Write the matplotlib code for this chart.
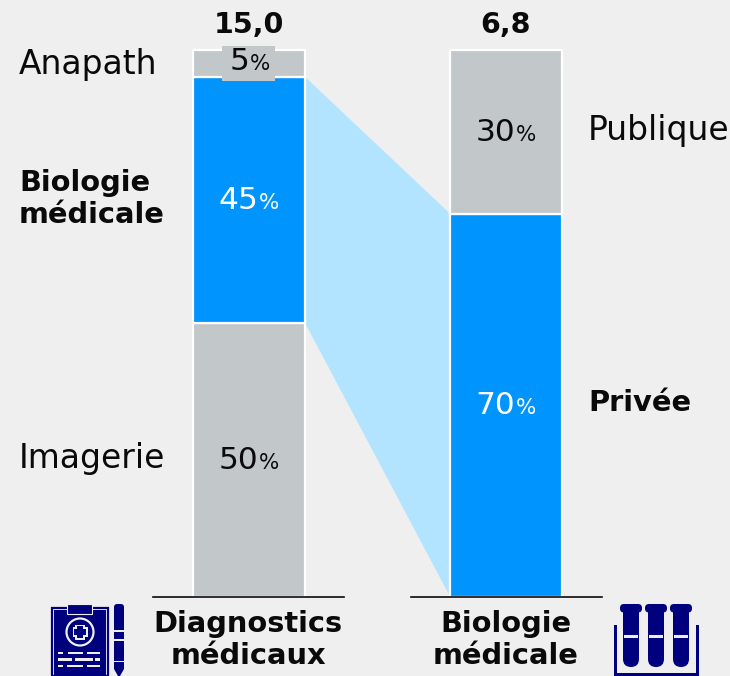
import matplotlib
matplotlib.use("Agg")
import matplotlib.pyplot as plt
from matplotlib.patches import Rectangle, FancyBboxPatch, Circle, Polygon

plt.rcParams['font.family'] = ['DejaVu Sans']

# data
totals = ["15,0", "6,8"]
group_names = ["Diagnostics\nmédicaux", "Biologie\nmédicale"]
left_labels = ["Imagerie", "Biologie\nmédicale", "Anapath"]
left_values = [50, 45, 5]
left_colors = ["#c2c7ca", "#0094ff", "#c2c7ca"]
right_labels = ["Privée", "Publique"]
right_values = [70, 30]
right_colors = ["#0094ff", "#c2c7ca"]

BG = "#efefef"
NAVY = "#00007f"
INK = "#0a0a0a"
PX = 5.47  # pixels per percent
Y0 = 596.5

fig = plt.figure(figsize=(7.3, 6.76), dpi=100, facecolor=BG)
ax = fig.add_axes([0, 0, 1, 1])
ax.set_xlim(0, 730)
ax.set_ylim((Y0 - 676) / PX, Y0 / PX)
ax.axis("off")

# pixel overlay for the icons
ov = fig.add_axes([0, 0, 1, 1], facecolor="none")
ov.set_xlim(0, 730)
ov.set_ylim(676, 0)
ov.axis("off")


def stack(x, values, colors):
    bottom = 0
    for v, c in zip(values, colors):
        ax.bar(x, v, 112, bottom=bottom, color=c, edgecolor="white", linewidth=1.6, zorder=3)
        bottom += v


def pct_label(x, y, v, color):
    # digits and a smaller percent sign on one baseline
    s = str(v)
    split = x + (9 if len(s) > 1 else 0)
    ax.text(split, y, s, ha="right", va="baseline", fontsize=22.5, color=color, zorder=6)
    ax.text(split + 1, y, "%", ha="left", va="baseline", fontsize=15.5, color=color, zorder=6)


x1, x2 = 249, 506
stack(x1, left_values, left_colors)
stack(x2, right_values, right_colors)

# link between the blue segments
ax.add_patch(Polygon([(x1 + 56, left_values[0]),
                      (x1 + 56, left_values[0] + left_values[1]),
                      (x2 - 56, right_values[0]),
                      (x2 - 56, 0)], closed=True, color="#b3e4ff", lw=0, zorder=1))

# baselines
ax.plot([153, 344], [0, 0], color=INK, lw=1.2, zorder=4)
ax.plot([411, 602], [0, 0], color=INK, lw=1.2, zorder=4)

# percent labels
bottom = 0
for v, c in zip(left_values, left_colors):
    col = "white" if c == "#0094ff" else INK
    if v == 5:
        ax.add_patch(Rectangle((222, 94.2), 53, 6.4, color="#c2c7ca", lw=0, zorder=5))
        pct_label(x1, bottom + v / 2 - 1.2, v, col)
    else:
        pct_label(x1, bottom + v / 2 - 1.7, v, col)
    bottom += v
bottom = 0
for v, c in zip(right_values, right_colors):
    pct_label(x2, bottom + v / 2 - 1.7, v, "white" if c == "#0094ff" else INK)
    bottom += v

# totals
ax.text(x1, 104.4, totals[0], ha="center", va="center", fontsize=20.5, fontweight="bold", color=INK)
ax.text(x2, 104.4, totals[1], ha="center", va="center", fontsize=20.5, fontweight="bold", color=INK)

# segment names
FS = 23.7
FB = 20.8
ax.text(19, 25.3, left_labels[0], ha="left", va="center", fontsize=FS, color=INK)
ax.text(19, 72.7, left_labels[1], ha="left", va="center", fontsize=FB, fontweight="bold", color=INK, linespacing=1.2)
ax.text(19, 97.2, left_labels[2], ha="left", va="center", fontsize=FS, color=INK)
ax.text(588, 35.3, right_labels[0], ha="left", va="center", fontsize=FB, fontweight="bold", color=INK)
ax.text(588, 85.2, right_labels[1], ha="left", va="center", fontsize=FS, color=INK)

# group names
ax.text(x1 - 1, -8, group_names[0], ha="center", va="center", fontsize=FB, fontweight="bold", color=INK, linespacing=1.2)
ax.text(x2, -8, group_names[1], ha="center", va="center", fontsize=FB, fontweight="bold", color=INK, linespacing=1.2)

# clipboard icon
ov.add_patch(Rectangle((51.5, 607.5), 56, 68, fc=BG, ec=NAVY, lw=1.6))
ov.add_patch(Rectangle((53.5, 609.5), 52, 65, fc=NAVY, lw=0))
ov.add_patch(Rectangle((67, 604), 25, 10, fc=NAVY, ec=BG, lw=0.8))
ov.add_patch(Circle((80, 632), 13.5, fc=NAVY, ec=BG, lw=1.6))
ov.add_patch(Rectangle((75, 624.5), 10, 15, fc=BG, lw=0))
ov.add_patch(Rectangle((72.5, 627), 15, 10, fc=BG, lw=0))
ov.add_patch(Rectangle((77, 626), 6, 12, fc=NAVY, lw=0))
ov.add_patch(Rectangle((74, 629), 12, 6, fc=NAVY, lw=0))
for yy, segs in [(651.5, [(58, 5), (68, 15), (87, 13)]),
                 (658, [(58, 14), (75, 18), (95, 5)]),
                 (664.5, [(58, 5), (67, 16), (87, 13)])]:
    for xx, w in segs:
        ov.add_patch(Rectangle((xx, yy), w, 2.6, fc=BG, lw=0))

# pen icon
ov.add_patch(FancyBboxPatch((114, 604), 10, 30, boxstyle="round,pad=0,rounding_size=3", fc=NAVY, lw=0))
ov.add_patch(Rectangle((114, 632), 10, 7, fc=NAVY, lw=0))
ov.add_patch(Rectangle((114, 641), 10, 20, fc=NAVY, lw=0))
ov.add_patch(Polygon([(114, 662), (124, 662), (124, 669), (120, 676), (118, 676), (114, 669)], fc=NAVY, lw=0))
ov.add_patch(Rectangle((114, 630), 10, 1.6, fc=BG, lw=0))

# test tube icon
for cx in [631, 656, 681]:
    ov.add_patch(FancyBboxPatch((cx - 8, 606), 16, 61, boxstyle="round,pad=0,rounding_size=8", fc=NAVY, lw=0))
    ov.add_patch(Rectangle((cx - 8, 608), 16, 30, fc=NAVY, lw=0))
    ov.add_patch(FancyBboxPatch((cx - 11, 604), 22, 8.5, boxstyle="round,pad=0,rounding_size=4", fc=NAVY, lw=0))
    ov.add_patch(Rectangle((cx - 7, 634.5), 14, 3, fc=BG, lw=0))
ov.add_patch(Rectangle((613.5, 625), 3, 51, fc=NAVY, lw=0))
ov.add_patch(Rectangle((696, 625), 3, 51, fc=NAVY, lw=0))
ov.add_patch(Rectangle((613.5, 673), 85.5, 3, fc=NAVY, lw=0))

fig.savefig("out.png", dpi=100, facecolor=BG)
